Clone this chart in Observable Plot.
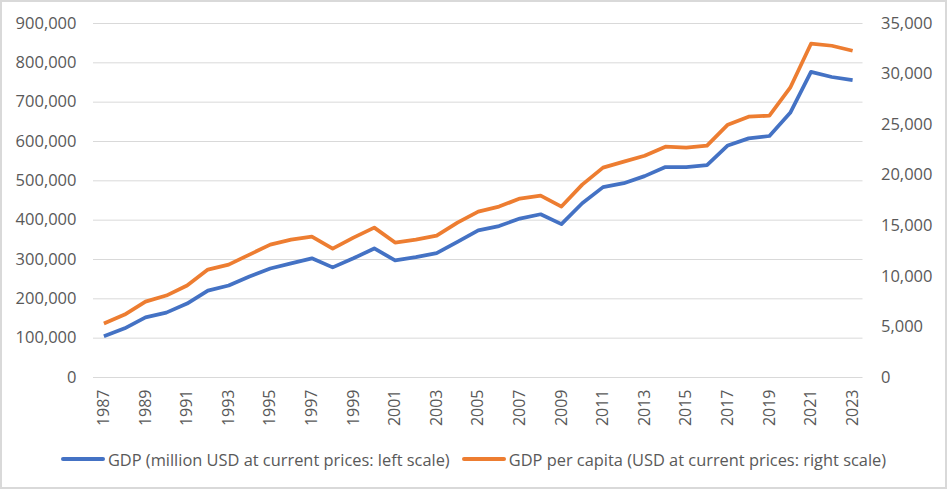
<!DOCTYPE html>
<html>
<head>
<meta charset="utf-8">
<script src="https://cdn.jsdelivr.net/npm/d3@7"></script>
<script src="https://cdn.jsdelivr.net/npm/@observablehq/plot@0.6"></script>
<style>
  html, body { margin: 0; padding: 0; background: #fff; }
  #wrap { position: relative; width: 947px; height: 489px; overflow: hidden; font-family: "Open Sans", "Liberation Sans", sans-serif; }
  #frame { position: absolute; left: 0; top: 0; width: 947px; height: 489px; box-sizing: border-box; border: 2px solid #D9D9D9; pointer-events: none; }
  #chart svg { position: absolute; left: 0; top: 0; }
  #legend { position: absolute; left: 0; width: 947px; top: 447px; height: 24px; display: flex; justify-content: center; align-items: center; font-size: 16.4px; color: #595959; white-space: nowrap; }
  .item { display: inline-flex; align-items: center; margin: 0 6px; }
  .sw { display: inline-block; width: 44px; height: 4px; border-radius: 2px; margin-right: 3px; }
</style>
</head>
<body>
<div id="wrap">
  <div id="chart"></div>
  <div id="legend">
    <span class="item"><span class="sw" style="background:#4472C4"></span>GDP (million USD at current prices: left scale)</span>
    <span class="item"><span class="sw" style="background:#ED7D31"></span>GDP per capita (USD at current prices: right scale)</span>
  </div>
  <div id="frame"></div>
</div>
<script>
const years = d3.range(1987, 2024);
const gdp = [105000,125000,153000,165000,188000,221000,234000,257000,277000,290000,303000,280000,303000,328000,298000,306000,316000,345000,374000,385000,404000,415000,390000,443000,484000,494000,512000,535000,535000,540000,590000,608000,614000,673000,777000,764000,756000];
const gdpPerCapita = [5340,6220,7500,8100,9090,10670,11160,12150,13140,13630,13930,12750,13830,14820,13340,13630,14030,15310,16400,16900,17690,17980,16900,19070,20750,21340,21930,22820,22720,22920,25000,25790,25890,28650,33000,32800,32310];
const leftTicks = d3.range(0, 900001, 100000);
const rightTicks = d3.range(0, 35001, 5000);
const yearTicks = d3.range(1987, 2024, 2);

const LMAX = 900000, RMAX = 35000;
const toLeft = v => v * LMAX / RMAX;
const fmt = d3.format(",");

const rows = years.map((y, i) => ({year: y, gdp: gdp[i], pc: gdpPerCapita[i]}));

const chart = Plot.plot({
  width: 947,
  height: 430,
  marginTop: 23,
  marginBottom: 53,
  marginLeft: 93,
  marginRight: 84.5,
  style: {fontFamily: "'Open Sans', 'Liberation Sans', sans-serif", fontSize: "16px", color: "#595959", background: "transparent"},
  x: {domain: [1986.5, 2023.5]},
  y: {domain: [0, LMAX]},
  marks: [
    Plot.gridY(leftTicks, {stroke: "#D9D9D9", strokeOpacity: 1, strokeWidth: 1}),
    Plot.axisY(leftTicks, {anchor: "left", tickSize: 0, tickPadding: 17, tickFormat: d => fmt(d), label: null, fontSize: 16.5}),
    Plot.axisY(rightTicks.map(toLeft), {anchor: "right", tickSize: 0, tickPadding: 18, tickFormat: d => fmt(Math.round(d * RMAX / LMAX)), label: null, fontSize: 16.5}),
    Plot.axisX(yearTicks, {anchor: "bottom", tickSize: 0, tickPadding: 12, tickRotate: -90, tickFormat: d => String(d), label: null, fontSize: 16}),
    Plot.line(rows, {x: "year", y: "gdp", stroke: "#4472C4", strokeWidth: 3.75, strokeLinejoin: "round", strokeLinecap: "butt"}),
    Plot.line(rows, {x: "year", y: d => toLeft(d.pc), stroke: "#ED7D31", strokeWidth: 3.75, strokeLinejoin: "round", strokeLinecap: "butt"})
  ]
});
document.getElementById("chart").appendChild(chart);
</script>
</body>
</html>
